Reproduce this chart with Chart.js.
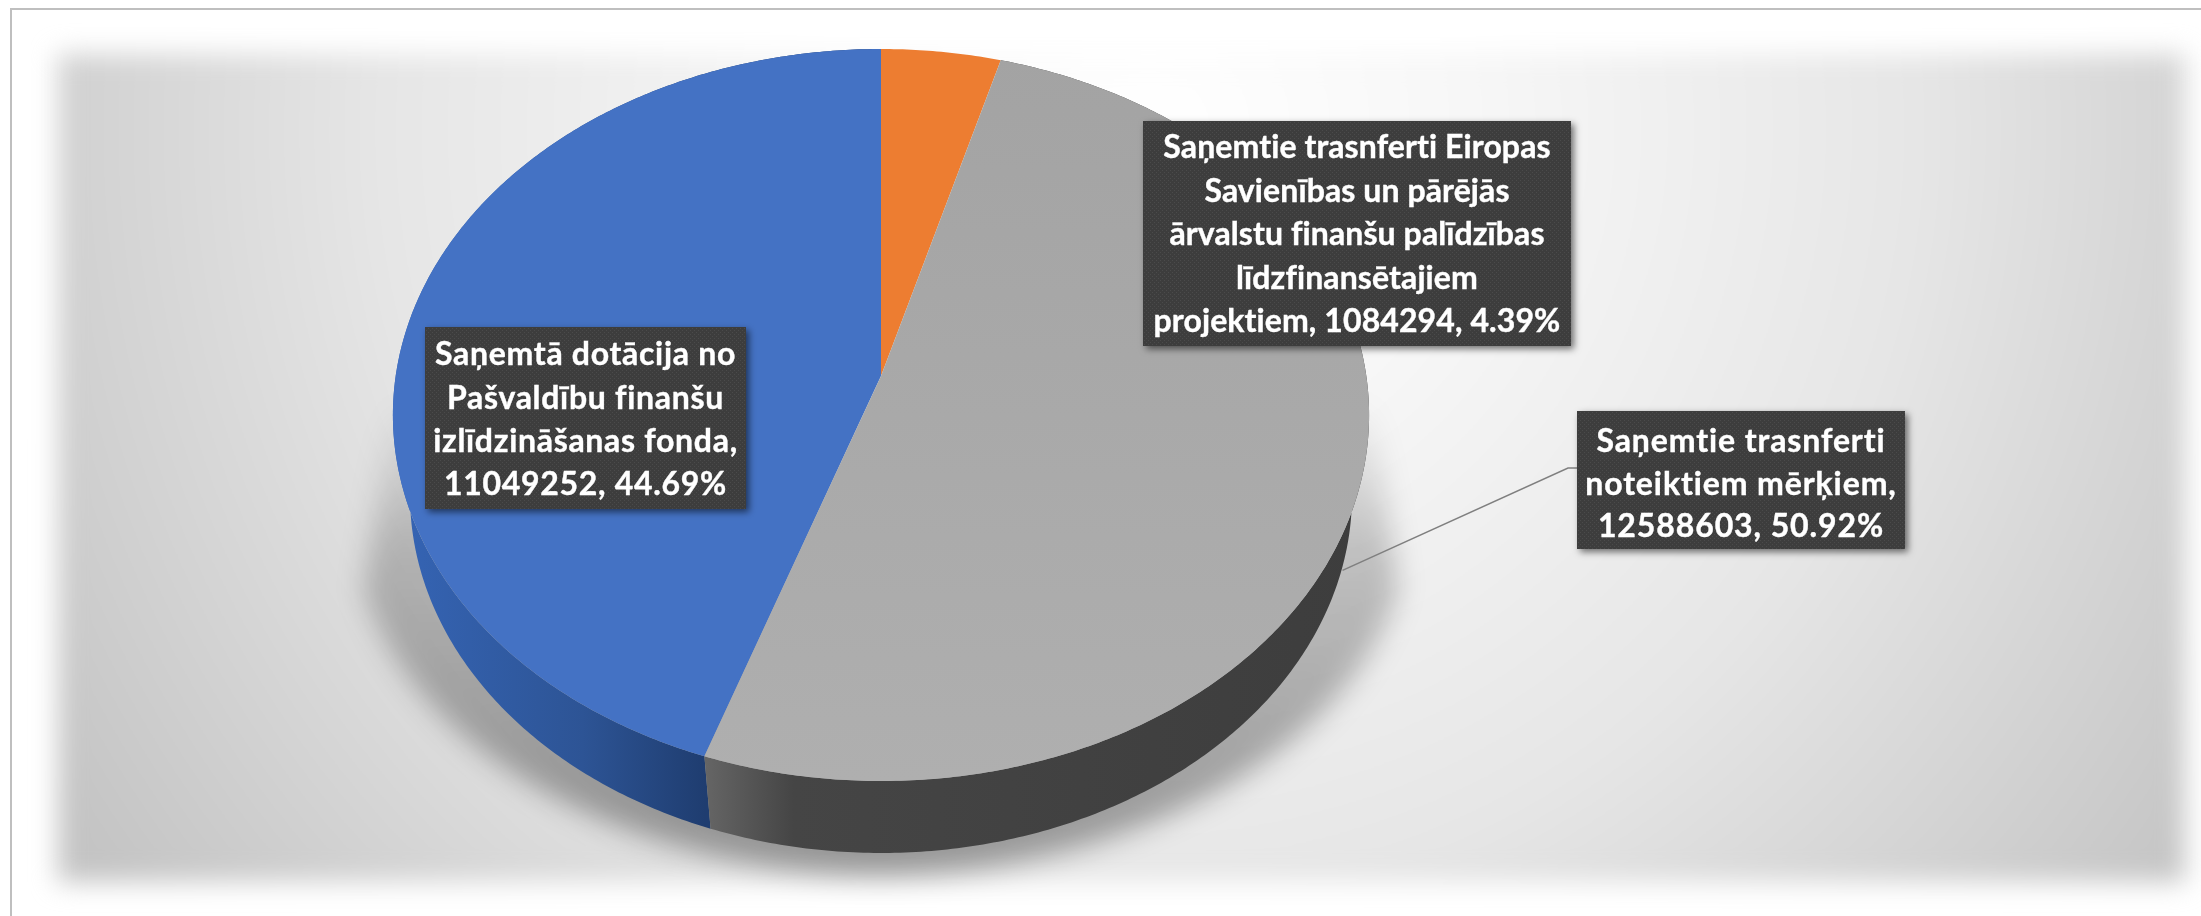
<!DOCTYPE html>
<html>
<head>
<meta charset="utf-8">
<title>Ieņēmumi</title>
<script src="https://cdn.jsdelivr.net/npm/chart.js@4"></script>
<style>
    html, body { margin: 0; padding: 0; background: #fff; overflow: hidden; }
    canvas { display: block; }
</style>
</head>
<body>
<canvas id="myChart" width="2201" height="916"></canvas>
<script>
const categories = [
    'Saņemtā dotācija no Pašvaldību finanšu izlīdzināšanas fonda',
    'Saņemtie trasnferti Eiropas Savienības un pārējās ārvalstu finanšu palīdzības līdzfinansētajiem projektiem',
    'Saņemtie trasnferti noteiktiem mērķiem'
];
const values = [11049252, 1084294, 12588603];
const percents = ['44.69%', '4.39%', '50.92%'];
const labelLines = [
    ['Saņemtā dotācija no', 'Pašvaldību finanšu', 'izlīdzināšanas fonda,', '11049252, 44.69%'],
    ['Saņemtie trasnferti Eiropas', 'Savienības un pārējās', 'ārvalstu finanšu palīdzības', 'līdzfinansētajiem', 'projektiem, 1084294, 4.39%'],
    ['Saņemtie trasnferti', 'noteiktiem mērķiem,', '12588603, 50.92%']
];

const faceColors = ['#4472c4', '#ed7d31', '#a5a5a5'];

// pie look: the tilted disc is a projective squash of the chart's circle
const widen = 1.326;
const apexShift = -39;
const wallDrop = 80;
const wallScaleX = 0.965;
const wallScaleY = 0.978;

const labelBoxes = [
    { x: 425, y: 327, w: 321, h: 182, pitch: 43.3, first: 355, spacing: '0.7px' },
    { x: 1143, y: 121, w: 428, h: 225, pitch: 43.5, first: 148, spacing: '0.1px' },
    { x: 1577, y: 411, w: 328, h: 138, pitch: 42.5, first: 442, spacing: '0.9px' }
];

function rimPoint(el, angle) {
    const r = el.outerRadius;
    const k = apexShift / r;
    const X = Math.cos(angle);
    const Y = Math.sin(angle);
    const d = 1 + k * Y;
    return {
        x: el.x + r * widen * X / d,
        y: el.y + (r * Y + apexShift) / d
    };
}

function lowerPoint(el, angle) {
    const p = rimPoint(el, angle);
    return {
        x: el.x + (p.x - el.x) * wallScaleX,
        y: el.y + wallDrop + (p.y - el.y) * wallScaleY
    };
}

function tracePoints(ctx, el, from, to, pointAt, first) {
    const steps = Math.ceil(Math.abs(to - from) / 0.01);
    for (let i = 0; i <= steps; i++) {
        const p = pointAt(el, from + (to - from) * i / steps);
        if (first && i === 0) ctx.moveTo(p.x, p.y);
        else ctx.lineTo(p.x, p.y);
    }
}

function makeDots(ctx) {
    const c = document.createElement('canvas');
    c.width = 4;
    c.height = 4;
    const p = c.getContext('2d');
    p.fillStyle = '#3d3d3d';
    p.fillRect(0, 0, 4, 4);
    p.fillStyle = '#4b4b4b';
    p.fillRect(0, 0, 1, 1);
    p.fillRect(2, 2, 1, 1);
    return ctx.createPattern(c, 'repeat');
}

const backdrop = {
    id: 'backdrop',
    beforeDraw(chart) {
        const ctx = chart.ctx;
        ctx.save();
        ctx.fillStyle = '#fff';
        ctx.fillRect(0, 0, 2201, 916);
        ctx.filter = 'blur(13px)';
        const g = ctx.createRadialGradient(1150, 130, 0, 1150, 130, 1280);
        g.addColorStop(0, '#ffffff');
        g.addColorStop(0.25, '#f7f7f7');
        g.addColorStop(0.6, '#e6e6e6');
        g.addColorStop(1, '#c4c4c4');
        ctx.fillStyle = g;
        ctx.fillRect(58, 54, 2127, 828);
        ctx.filter = 'none';
        // frame of the cropped slide
        ctx.fillStyle = '#bfbfbf';
        ctx.fillRect(10, 8, 2191, 2);
        ctx.fillRect(10, 8, 2, 908);
        ctx.restore();
    }
};

const tiltedPie = {
    id: 'tiltedPie',
    beforeDatasetsDraw(chart) {
        const ctx = chart.ctx;
        const arcs = chart.getDatasetMeta(0).data;
        const el = arcs[0];

        // ground shadow
        ctx.save();
        ctx.filter = 'blur(14px)';
        const sg = ctx.createLinearGradient(0, 400, 0, 880);
        sg.addColorStop(0, 'rgba(0,0,0,0)');
        sg.addColorStop(0.3, 'rgba(0,0,0,0.2)');
        sg.addColorStop(1, 'rgba(0,0,0,0.36)');
        ctx.fillStyle = sg;
        ctx.beginPath();
        ctx.moveTo(392, 400);
        ctx.lineTo(364, 590);
        ctx.bezierCurveTo(420, 770, 660, 874, 880, 874);
        ctx.bezierCurveTo(1100, 874, 1340, 770, 1398, 590);
        ctx.lineTo(1372, 400);
        ctx.closePath();
        ctx.fill();
        ctx.restore();

        // side walls
        const blueWall = ctx.createLinearGradient(400, 0, 705, 0);
        blueWall.addColorStop(0, '#3564b4');
        blueWall.addColorStop(0.6, '#2d5495');
        blueWall.addColorStop(1, '#1f3d70');
        const greyWall = ctx.createLinearGradient(700, 0, 1370, 0);
        greyWall.addColorStop(0, '#676767');
        greyWall.addColorStop(0.14, '#454545');
        greyWall.addColorStop(1, '#3d3d3d');
        const walls = [blueWall, null, greyWall];
        [0, 2].forEach(i => {
            const a = arcs[i];
            ctx.fillStyle = walls[i];
            ctx.beginPath();
            tracePoints(ctx, el, a.startAngle, a.endAngle, rimPoint, true);
            tracePoints(ctx, el, a.endAngle, a.startAngle, lowerPoint, false);
            ctx.closePath();
            ctx.fill();
        });

        // top faces
        const apex = { x: el.x, y: el.y + apexShift };
        arcs.forEach((a, i) => {
            let fill = faceColors[i];
            if (i === 2) {
                fill = ctx.createLinearGradient(0, 50, 0, 780);
                fill.addColorStop(0, '#a3a3a3');
                fill.addColorStop(1, '#afafaf');
            }
            ctx.fillStyle = fill;
            ctx.beginPath();
            ctx.moveTo(apex.x, apex.y);
            tracePoints(ctx, el, a.startAngle, a.endAngle, rimPoint, false);
            ctx.closePath();
            ctx.fill();
        });
        return false;
    },
    afterDraw(chart) {
        const ctx = chart.ctx;
        const arcs = chart.getDatasetMeta(0).data;

        // leader line of the grey slice
        const a = arcs[2];
        const p = lowerPoint(a, (a.startAngle + a.endAngle) / 2);
        ctx.save();
        ctx.strokeStyle = '#7f7f7f';
        ctx.lineWidth = 1.5;
        ctx.beginPath();
        ctx.moveTo(p.x, p.y + 4);
        ctx.lineTo(1568, 468);
        ctx.lineTo(1577, 468);
        ctx.stroke();

        // data labels
        const dots = makeDots(ctx);
        labelBoxes.forEach((b, i) => {
            ctx.save();
            ctx.shadowColor = 'rgba(0,0,0,0.55)';
            ctx.shadowBlur = 7;
            ctx.shadowOffsetX = 3;
            ctx.shadowOffsetY = 3;
            ctx.fillStyle = dots;
            ctx.fillRect(b.x, b.y, b.w, b.h);
            ctx.restore();
            ctx.fillStyle = '#fff';
            ctx.strokeStyle = '#fff';
            ctx.lineWidth = 0.4;
            ctx.font = 'bold 32px Lato';
            ctx.letterSpacing = b.spacing;
            ctx.textAlign = 'center';
            ctx.textBaseline = 'middle';
            labelLines[i].forEach((line, n) => {
                ctx.fillText(line, b.x + b.w / 2, b.first + n * b.pitch);
                ctx.strokeText(line, b.x + b.w / 2, b.first + n * b.pitch);
            });
        });
        ctx.restore();
    }
};

const ctx = document.getElementById('myChart');

new Chart(ctx, {
    type: 'pie',
    data: {
        labels: categories,
        datasets: [
            {
                data: values,
                backgroundColor: faceColors,
                borderWidth: 0,
            }
        ]
    },
    options: {
        responsive: false,
        animation: false,
        rotation: -160.9,
        radius: 366,
        layout: {
            padding: { left: 0, right: 439, top: 0, bottom: 86 }
        },
        plugins: {
            legend: { display: false },
            title: { display: false },
            tooltip: { enabled: false }
        }
    },
    plugins: [backdrop, tiltedPie]
});
</script>
</body>
</html>
